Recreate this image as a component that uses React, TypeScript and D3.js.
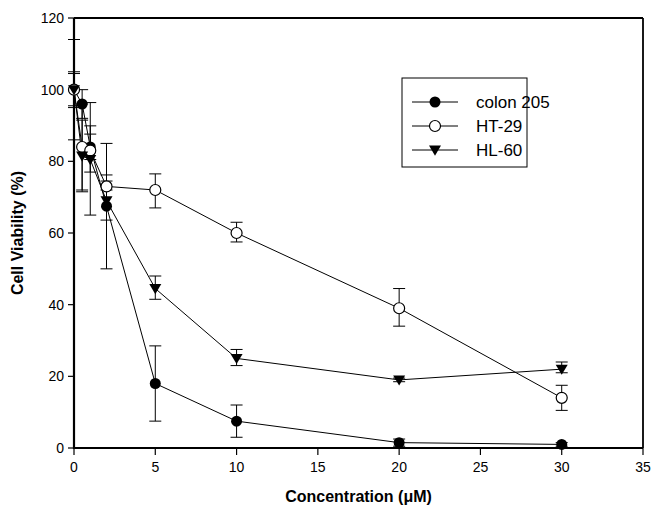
import React from 'react';
import * as d3 from 'd3';

// concentration (uM)
const conc = [0, 0.5, 1, 2, 5, 10, 20, 30];

const colonVal = [100, 96, 84, 67.5, 18, 7.5, 1.5, 1];
const colonLo = [95.5, 92, 80.5, 50, 7.5, 3, 0.5, 0.5];
const colonHi = [104.5, 100, 87.6, 85, 28.5, 12, 2.5, 1.5];

const htVal = [100, 84, 83, 73, 72, 60, 39, 14];
const htLo = [86, 72, 65, 72, 67, 57.5, 34, 10.5];
const htHi = [114, 96, 96.4, 74.5, 76.5, 63, 44.5, 17.5];

const hlVal = [100, 81.5, 80.5, 69, 44.5, 25, 19, 22];
const hlLo = [95, 71.5, 77, 63.6, 41.5, 23, 18.5, 21];
const hlHi = [105, 91.5, 89.9, 76.2, 48, 27.5, 19.5, 24];

const xTicks = [0, 5, 10, 15, 20, 25, 30, 35];
const yTicks = [0, 20, 40, 60, 80, 100, 120];

const series = [
  { name: 'colon 205', marker: 'filled', val: colonVal, lo: colonLo, hi: colonHi },
  { name: 'HT-29', marker: 'open', val: htVal, lo: htLo, hi: htHi },
  { name: 'HL-60', marker: 'triangle', val: hlVal, lo: hlLo, hi: hlHi },
];

const W = 653;
const H = 519;
const margin = { top: 18, right: 10, bottom: 71, left: 74 };

function Marker({ type, x, y }: { type: string; x: number; y: number }) {
  if (type === 'filled') return <circle cx={x} cy={y} r={5.5} fill="#000" />;
  if (type === 'open') return <circle cx={x} cy={y} r={5.5} fill="#fff" stroke="#000" strokeWidth={1.2} />;
  const s = 6;
  return <path d={`M${x - s},${y - s * 0.75} L${x + s},${y - s * 0.75} L${x},${y + s * 0.95} Z`} fill="#000" />;
}

export default function App() {
  const x = d3.scaleLinear().domain([0, 35]).range([margin.left, W - margin.right]);
  const y = d3.scaleLinear().domain([0, 120]).range([H - margin.bottom, margin.top]);
  const line = d3.line<number>().x((_, i) => x(conc[i])).y((d) => y(d));
  const font = 'Arial, "Liberation Sans", sans-serif';

  return (
    <svg width={W} height={H} style={{ position: 'absolute', left: 0, top: 0 }}>
      <rect width={W} height={H} fill="#fff" />
      {/* frame */}
      <line x1={x(0)} x2={x(35)} y1={y(120)} y2={y(120)} stroke="#000" strokeWidth={1.8} />
      <line x1={x(35)} x2={x(35)} y1={y(120)} y2={y(0)} stroke="#000" strokeWidth={1.8} />
      <line x1={x(0)} x2={x(0)} y1={y(120)} y2={y(0) + 1} stroke="#000" strokeWidth={2.2} />
      <line x1={x(0) - 1} x2={x(35)} y1={y(0)} y2={y(0)} stroke="#000" strokeWidth={2.2} />

      {yTicks.map((t) => (
        <g key={'y' + t}>
          <line x1={x(0) - 6} x2={x(0)} y1={y(t)} y2={y(t)} stroke="#000" strokeWidth={1.2} />
          <text x={x(0) - 10} y={y(t)} dy="0.35em" textAnchor="end" fontFamily={font} fontSize={14}>{t}</text>
        </g>
      ))}
      {xTicks.map((t) => (
        <g key={'x' + t}>
          <line x1={x(t)} x2={x(t)} y1={y(0)} y2={y(0) + 7} stroke="#000" strokeWidth={1.2} />
          <text x={x(t)} y={y(0) + 24} textAnchor="middle" fontFamily={font} fontSize={14}>{t}</text>
        </g>
      ))}

      <text x={(x(0) + x(35)) / 2} y={502} textAnchor="middle" fontFamily={font} fontSize={16} fontWeight="bold">
        Concentration (μM)
      </text>
      <text transform={`translate(23,${(y(0) + y(120)) / 2}) rotate(-90)`} textAnchor="middle" fontFamily={font} fontSize={16} fontWeight="bold">
        Cell Viability (%)
      </text>

      {series.map((s) => (
        <g key={s.name}>
          {s.val.map((v, i) => (
            <g key={i} stroke="#000" strokeWidth={1}>
              <line x1={x(conc[i])} x2={x(conc[i])} y1={y(s.lo[i])} y2={y(s.hi[i])} />
              <line x1={x(conc[i]) - 6} x2={x(conc[i]) + 6} y1={y(s.lo[i])} y2={y(s.lo[i])} />
              <line x1={x(conc[i]) - 6} x2={x(conc[i]) + 6} y1={y(s.hi[i])} y2={y(s.hi[i])} />
            </g>
          ))}
          <path d={line(s.val) || ''} fill="none" stroke="#000" strokeWidth={1} />
        </g>
      ))}
      {series.map((s) => (
        <g key={s.name + 'm'}>
          {s.val.map((v, i) => (
            <Marker key={i} type={s.marker} x={x(conc[i])} y={y(v)} />
          ))}
        </g>
      ))}

      {/* legend */}
      <rect x={402} y={78} width={125} height={89} fill="#fff" stroke="#000" strokeWidth={1} />
      {series.map((s, i) => {
        const ly = 102 + i * 24;
        return (
          <g key={s.name + 'l'}>
            <line x1={412} x2={458} y1={ly} y2={ly} stroke="#000" strokeWidth={1} />
            <Marker type={s.marker} x={435} y={ly} />
            <text x={476} y={ly} dy="0.35em" fontFamily={font} fontSize={17}>{s.name}</text>
          </g>
        );
      })}
    </svg>
  );
}
